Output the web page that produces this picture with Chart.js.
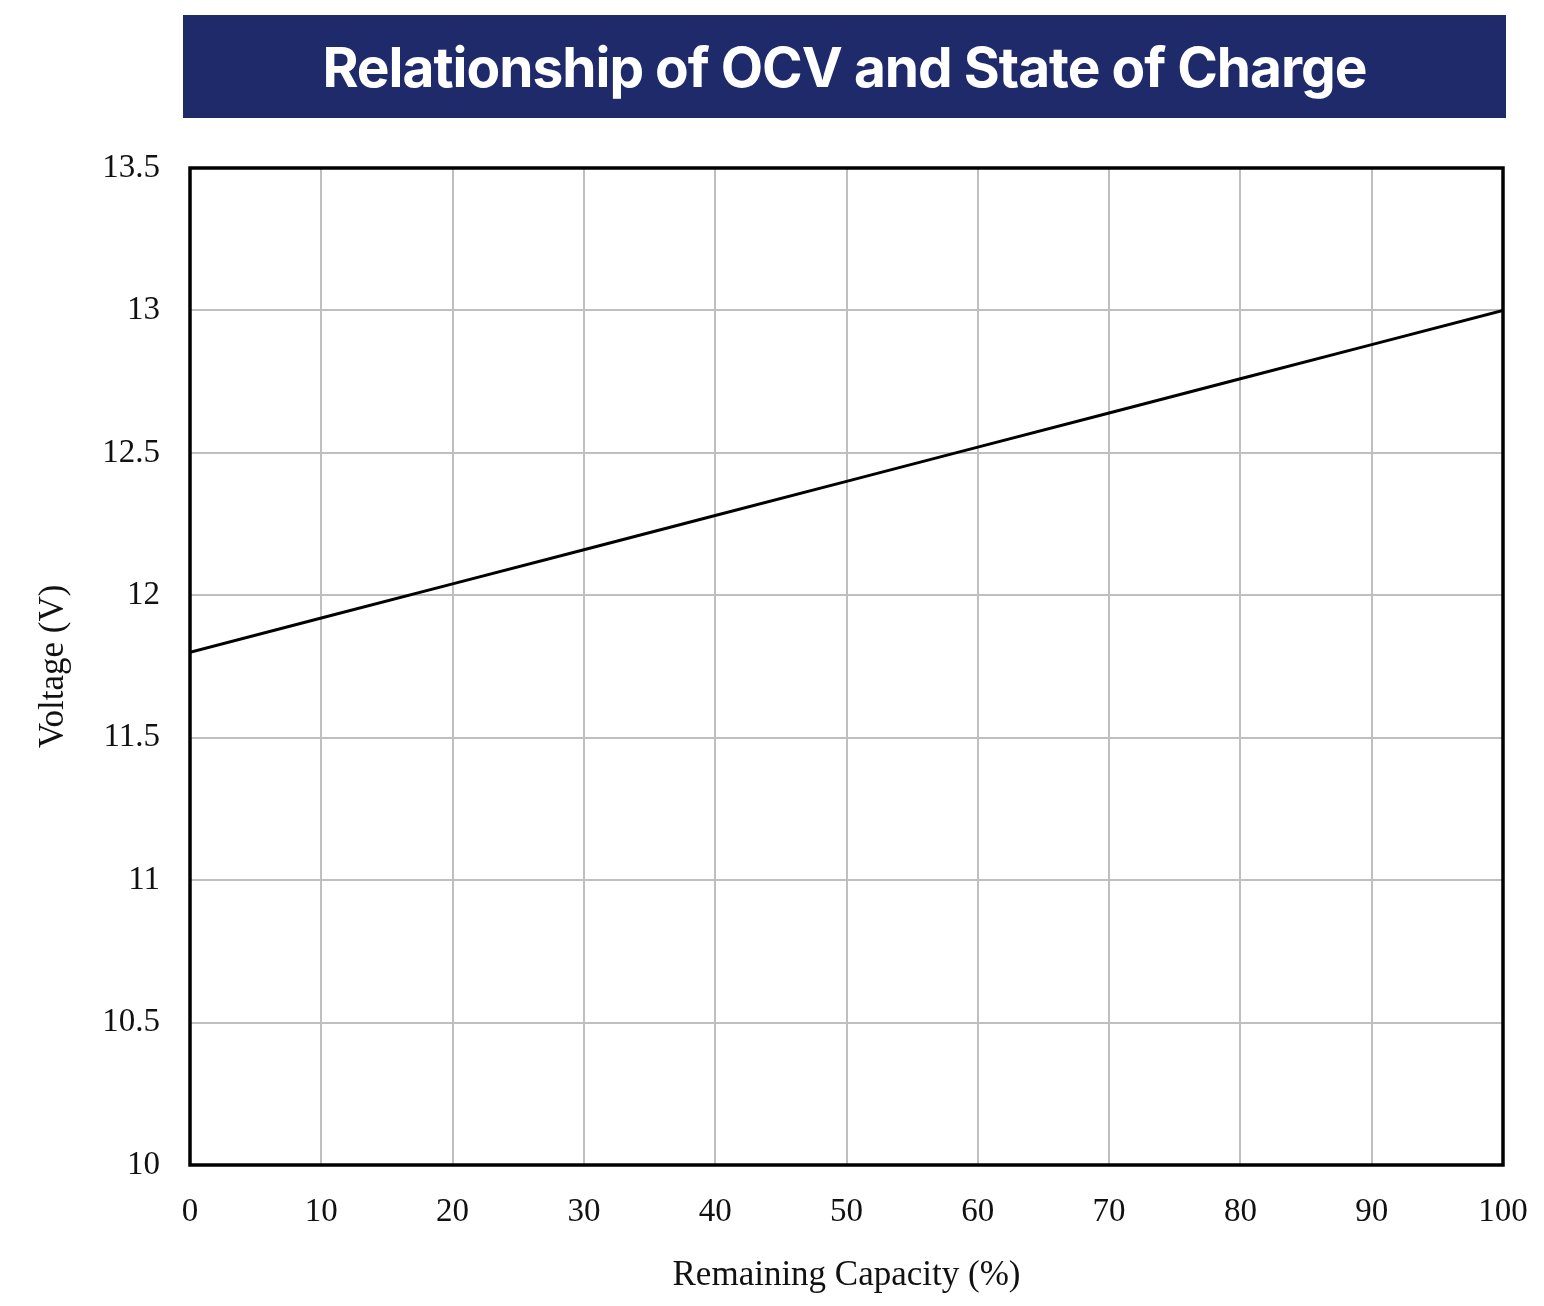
<!DOCTYPE html>
<html>
<head>
<meta charset="utf-8">
<script src="https://cdn.jsdelivr.net/npm/chart.js@4.4.1/dist/chart.umd.min.js"></script>
<style>
  body { margin: 0; background: #fff; }
  #wrap { position: relative; width: 1544px; height: 1306px; }
  #banner {
    position: absolute; left: 183px; top: 15px; width: 1323px; height: 103px;
    background: #1f2a6b; color: #fff;
    font-family: Inter, "Open Sans", sans-serif; font-weight: 700; font-size: 55px;
    letter-spacing: -1px;
    display: flex; align-items: center; justify-content: center;
  }
  #ocvChart { position: absolute; left: 0; top: 0; }
</style>
</head>
<body>
<div id="wrap">
  <canvas id="ocvChart" width="1544" height="1306"></canvas>
  <div id="banner">Relationship of OCV and State of Charge</div>
</div>
<script>
const capacity = [0, 10, 20, 30, 40, 50, 60, 70, 80, 90, 100];
const voltage = [11.80, 11.92, 12.04, 12.16, 12.28, 12.40, 12.52, 12.64, 12.76, 12.88, 13.00];

const CHART = document.getElementById("ocvChart");

// black frame round the plot area
const frame = {
    id: 'frame',
    afterDraw(chart) {
        const a = chart.chartArea;
        const ctx = chart.ctx;
        ctx.save();
        ctx.strokeStyle = '#000';
        ctx.lineWidth = 3.5;
        ctx.strokeRect(a.left, a.top, a.right - a.left, a.bottom - a.top);
        ctx.restore();
    }
};

const tickFont = { family: '"Liberation Serif", "Times New Roman", serif', size: 33 };
const titleFont = { family: '"Liberation Serif", "Times New Roman", serif', size: 35 };

let ocvChart = new Chart(CHART, {
    type: 'line',
    data: {
        datasets: [
            {
                label: "OCV",
                data: capacity.map((c, i) => ({ x: c, y: voltage[i] })),
                borderColor: "#000",
                borderWidth: 3,
                pointRadius: 0,
                fill: false,
                tension: 0
            }
        ]
    },
    options: {
        responsive: false,
        animation: false,
        layout: { padding: { top: 168, right: 41, left: 0, bottom: 0 } },
        plugins: {
            legend: { display: false },
            tooltip: { enabled: false }
        },
        scales: {
            x: {
                type: 'linear',
                min: 0,
                max: 100,
                ticks: { stepSize: 10, color: '#111', font: tickFont, padding: 28, maxRotation: 0 },
                grid: { color: '#bfbfbf', lineWidth: 2, drawTicks: false },
                border: { display: false },
                title: { display: true, text: 'Remaining Capacity (%)', color: '#111', font: titleFont, padding: { top: 0, bottom: 9 } },
                afterFit(scale) {
                    scale.height = 141;
                    scale.paddingLeft = 0;
                    scale.paddingRight = 0;
                }
            },
            y: {
                min: 10,
                max: 13.5,
                ticks: {
                    stepSize: 0.5, color: '#111', font: tickFont, padding: 30,
                    callback: (v) => String(Math.round(v * 10) / 10)
                },
                grid: { color: '#bfbfbf', lineWidth: 2, drawTicks: false },
                border: { display: false },
                title: { display: true, text: 'Voltage (V)', color: '#111', font: titleFont, padding: { top: 33, bottom: 0 } },
                afterFit(scale) {
                    scale.width = 190;
                    scale.paddingTop = 0;
                    scale.paddingBottom = 0;
                }
            }
        }
    },
    plugins: [frame]
});
</script>
</body>
</html>
